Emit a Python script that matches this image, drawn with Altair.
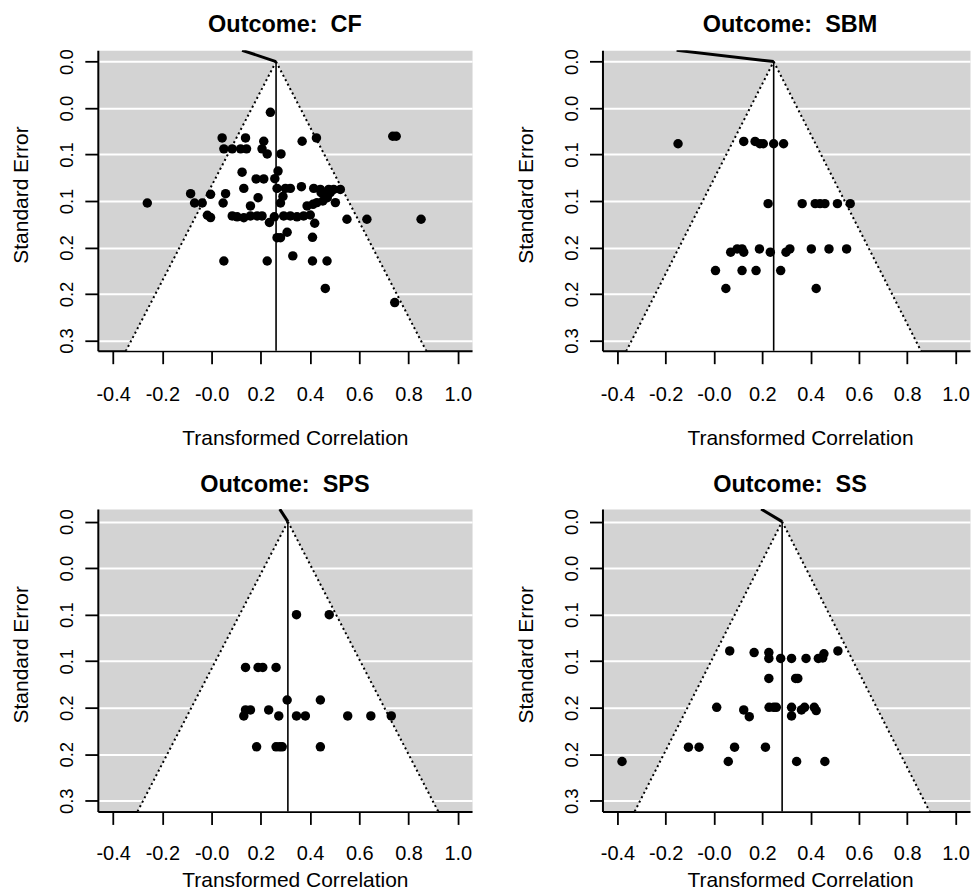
import altair as alt
import pandas as pd

FONT = "Liberation Sans"

# ---------------- data ----------------
titles = ["Outcome: \u00a0CF", "Outcome: \u00a0SBM", "Outcome: \u00a0SPS", "Outcome: \u00a0SS"]

cf_x = [0.239, 0.043, 0.138, 0.212, 0.368, 0.426, 0.736, 0.750,
        0.050, 0.084, 0.118, 0.142, 0.205, 0.226, 0.282,
        0.124, 0.270, 0.181, 0.212, 0.257,
        0.131, 0.266, 0.300, 0.320, 0.365, 0.415, 0.442, 0.476, 0.496, 0.523,
        -0.085, -0.004, 0.057, 0.189, 0.290,
        -0.261, -0.069, -0.038, 0.047, 0.158, 0.280, 0.388,
        0.428, 0.445, 0.462, 0.482, 0.503, 0.412, 0.452, 0.470,
        -0.017, -0.004, 0.084, 0.104, 0.131, 0.158, 0.185, 0.205,
        0.235, 0.255, 0.293, 0.320, 0.347, 0.374, 0.401, 0.419,
        0.550, 0.631, 0.851,
        0.307, 0.266, 0.280, 0.410, 0.330,
        0.050, 0.226, 0.410, 0.469, 0.462, 0.744]
cf_se = [0.0546, 0.0821, 0.0821, 0.0857, 0.0857, 0.0821, 0.0803, 0.0803,
         0.0939, 0.0939, 0.0939, 0.0939, 0.0939, 0.0993, 0.0993,
         0.1190, 0.1178, 0.1262, 0.1262, 0.1260,
         0.1364, 0.1364, 0.1364, 0.1364, 0.1346, 0.1364, 0.1375, 0.1375, 0.1375, 0.1375,
         0.1421, 0.1428, 0.1421, 0.1464, 0.1450,
         0.1521, 0.1521, 0.1521, 0.1521, 0.1553, 0.1521, 0.1553,
         0.1517, 0.1410, 0.1428, 0.1410, 0.1517, 0.1535, 0.1500, 0.1464,
         0.1653, 0.1678, 0.1660, 0.1670, 0.1680, 0.1660, 0.1660, 0.1660,
         0.1731, 0.1670, 0.1660, 0.1660, 0.1670, 0.1660, 0.1650, 0.1739,
         0.1696, 0.1696, 0.1696,
         0.1836, 0.1894, 0.1894, 0.1890, 0.2090,
         0.2145, 0.2145, 0.2145, 0.2145, 0.2440, 0.2592]

sbm_x = [-0.149, 0.123, 0.170, 0.190, 0.204, 0.247, 0.288,
         0.224, 0.365, 0.419, 0.439, 0.459, 0.511, 0.564,
         0.069, 0.096, 0.116, 0.123, 0.188, 0.233, 0.298, 0.314, 0.403, 0.476, 0.549,
         0.006, 0.116, 0.174, 0.276,
         0.049, 0.423]
sbm_se = [0.0884, 0.0859, 0.0859, 0.0884, 0.0884, 0.0884, 0.0884,
          0.1528, 0.1528, 0.1528, 0.1528, 0.1528, 0.1528, 0.1528,
          0.2050, 0.2015, 0.2015, 0.2050, 0.2015, 0.2050, 0.2050, 0.2015, 0.2015, 0.2015, 0.2015,
          0.2248, 0.2248, 0.2248, 0.2248,
          0.2441, 0.2441]

sps_x = [0.345, 0.478,
         0.138, 0.189, 0.208, 0.262,
         0.307, 0.442,
         0.138, 0.158, 0.232,
         0.131, 0.273, 0.345, 0.381, 0.553, 0.647, 0.730,
         0.183, 0.262, 0.276, 0.287, 0.442]
sps_se = [0.1000, 0.1000,
          0.1567, 0.1567, 0.1567, 0.1567,
          0.1917, 0.1917,
          0.2024, 0.2024, 0.2024,
          0.2088, 0.2088, 0.2088, 0.2088, 0.2088, 0.2088, 0.2088,
          0.2420, 0.2420, 0.2420, 0.2420, 0.2420]

ss_x = [0.065, 0.166, 0.227, 0.227, 0.276, 0.321, 0.381, 0.432, 0.450, 0.455, 0.513,
        0.227, 0.338, 0.347,
        0.011, 0.123, 0.146, 0.228, 0.247, 0.258, 0.321, 0.321, 0.362, 0.375, 0.415, 0.423,
        -0.106, -0.062, 0.085, 0.213,
        -0.381, 0.059, 0.342, 0.459]
ss_se = [0.1390, 0.1407, 0.1407, 0.1470, 0.1470, 0.1470, 0.1470, 0.1470, 0.1465, 0.1420, 0.1390,
         0.1685, 0.1685, 0.1685,
         0.1996, 0.2024, 0.2096, 0.1996, 0.1996, 0.1996, 0.1996, 0.2088, 0.2024, 0.1996, 0.1996, 0.2031,
         0.2424, 0.2424, 0.2424, 0.2424,
         0.2578, 0.2578, 0.2578, 0.2578]

centers = [0.262, 0.247, 0.310, 0.282]
apex_top_x = [0.124, -0.155, 0.277, 0.195]
se_max = 0.3115

x_ticks = [-0.4, -0.2, 0.0, 0.2, 0.4, 0.6, 0.8, 1.0]
x_tick_labels = ["-0.4", "-0.2", "-0.0", "0.2", "0.4", "0.6", "0.8", "1.0"]
y_ticks = [0.0, 0.05, 0.10, 0.15, 0.20, 0.25, 0.30]
y_tick_labels = ["0.0", "0.0", "0.1", "0.1", "0.2", "0.2", "0.3"]

x_domain_cols = [[-0.462, 1.058], [-0.462, 1.060]]
y_domain_rows = [[-0.0121, 0.311], [-0.0135, 0.3115]]

x_label_expr = "[" + ",".join("'%s'" % s for s in x_tick_labels) + "][round((datum.value + 0.4) * 5)]"
y_label_expr = "[" + ",".join("'%s'" % s for s in y_tick_labels) + "][round(datum.value * 20)]"


def panel(title, xs, ses, center, top_x, xdom, ydom, w, h, title_dx, xlabel_pad, xtitle_x, xtitle_y):
    pts = pd.DataFrame({"x": xs, "se": ses})
    tri = pd.DataFrame({"se": [0.0, se_max],
                        "x": [center, center - 1.96 * se_max],
                        "hi": [center, center + 1.96 * se_max]})
    edges = pd.DataFrame({"side": ["L", "L", "R", "R"],
                          "se": [0.0, se_max, 0.0, se_max],
                          "x": [center, center - 1.96 * se_max, center, center + 1.96 * se_max]})
    ref = pd.DataFrame({"x": [center], "se": [0.0], "se2": [ydom[1]]})
    apex = pd.DataFrame({"x": [center, top_x], "se": [0.0, ydom[0]]})

    xs_scale = alt.Scale(domain=xdom, nice=False, zero=False)
    ys_scale = alt.Scale(domain=ydom, reverse=True, nice=False, zero=False)

    xaxis = alt.Axis(values=x_ticks, labelExpr=x_label_expr, title="Transformed Correlation",
                     labelFont=FONT, labelFontSize=20, labelColor="black",
                     labelBaseline="alphabetic", labelPadding=xlabel_pad, labelFlush=False, labelOverlap=False,
                     tickSize=13, tickWidth=1.8, tickColor="black",
                     domainColor="black", domainWidth=2, grid=False,
                     titleFont=FONT, titleFontSize=21, titleFontWeight="normal", titleColor="black",
                     titleBaseline="alphabetic", titleAlign="center", titleX=xtitle_x, titleY=xtitle_y)
    yaxis = alt.Axis(values=y_ticks, labelExpr=y_label_expr, title="Standard Error",
                     labelFont=FONT, labelFontSize=18.5, labelColor="black",
                     labelAngle=270, labelAlign="center", labelBaseline="alphabetic",
                     labelPadding=12, labelFlush=False, labelOverlap=False,
                     tickSize=13, tickWidth=1.8, tickColor="black",
                     domainColor="black", domainWidth=2,
                     grid=True, gridColor="white", gridWidth=2,
                     titleFont=FONT, titleFontSize=21, titleFontWeight="normal", titleColor="black",
                     titleAngle=270, titleAlign="center", titleBaseline="alphabetic",
                     titleX=-70, titleY=h / 2 - 6)

    X = alt.X("x:Q", scale=xs_scale, axis=xaxis)
    Y = alt.Y("se:Q", scale=ys_scale, axis=yaxis)

    white = alt.Chart(tri).mark_area(color="white", orient="horizontal", clip=True).encode(
        y=Y, x=X, x2="hi:Q")
    edge = alt.Chart(edges).mark_line(color="black", strokeWidth=2, strokeDash=[2, 3], clip=True).encode(
        x=X, y=Y, detail="side:N")
    rule = alt.Chart(ref).mark_rule(color="black", strokeWidth=1.6).encode(
        x=X, y=Y, y2="se2:Q")
    top = alt.Chart(apex).mark_line(color="black", strokeWidth=3, clip=True).encode(
        x=X, y=Y)
    dots = alt.Chart(pts).mark_circle(color="black", size=90, opacity=1).encode(
        x=X, y=Y)

    return alt.layer(white, edge, rule, top, dots).properties(
        width=w, height=h,
        title=alt.TitleParams(title, font=FONT, fontSize=23.5, fontWeight="bold", color="black",
                              anchor="middle", offset=12, dx=title_dx))


p1 = panel(titles[0], cf_x, cf_se, centers[0], apex_top_x[0], x_domain_cols[0], y_domain_rows[0],
           375, 301, 0, 37, 197.5, 94)
p2 = panel(titles[1], sbm_x, sbm_se, centers[1], apex_top_x[1], x_domain_cols[1], y_domain_rows[0],
           368.3, 301, 3.8, 37, 198, 94)
p3 = panel(titles[2], sps_x, sps_se, centers[2], apex_top_x[2], x_domain_cols[0], y_domain_rows[1],
           375, 303, 0, 35.3, 197.5, 75)
p4 = panel(titles[3], ss_x, ss_se, centers[3], apex_top_x[3], x_domain_cols[1], y_domain_rows[1],
           368.3, 303, 3.8, 35.3, 198, 75)

chart = alt.concat(p1, p2, p3, p4, columns=2, spacing={"row": 158.7, "column": 130.7},
                   bounds="flush").properties(
    padding={"left": 2, "top": 3.5, "right": 0, "bottom": -2},
    background="white"
).configure_view(fill="#d3d3d3", stroke="transparent")

chart.save("out.html", embed_options={"renderer": "svg", "actions": False})
